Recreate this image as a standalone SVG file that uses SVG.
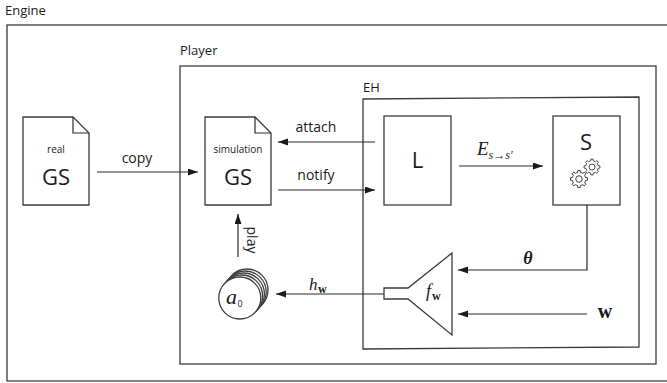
<svg xmlns="http://www.w3.org/2000/svg" xmlns:xlink="http://www.w3.org/1999/xlink" width="667" height="383" viewBox="0 0 667 383">
<style>
.box{fill:none;stroke:#3c3c3c;stroke-width:1.3}
.wbox{fill:#fff;stroke:#3c3c3c;stroke-width:1.3}
.ln{fill:none;stroke:#2a2a2a;stroke-width:1.2}
.arr{fill:none;stroke:#2a2a2a;stroke-width:1.2;marker-end:url(#ah)}
.sans{font-family:"Open Sans","Liberation Sans",sans-serif;fill:#1a1a1a}
.serif{font-family:"Liberation Serif","DejaVu Serif",serif;fill:#1a1a1a}
.gear{fill:#fff;stroke:#2a2a2a;stroke-width:0.85}
</style>
<defs>
<marker id="ah" markerUnits="userSpaceOnUse" markerWidth="11" markerHeight="8" refX="10" refY="3.5" orient="auto">
<path d="M0,0 L10,3.5 L0,7 Z" fill="#1a1a1a"/>
</marker>
<g id="gearShape">
<path class="gear" d="M6.16,-1.31 L7.92,-1.11 L7.92,1.11 L6.16,1.31 L5.28,3.43 L6.39,4.81 L4.81,6.39 L3.43,5.28 L1.31,6.16 L1.11,7.92 L-1.11,7.92 L-1.31,6.16 L-3.43,5.28 L-4.81,6.39 L-6.39,4.81 L-5.28,3.43 L-6.16,1.31 L-7.92,1.11 L-7.92,-1.11 L-6.16,-1.31 L-5.28,-3.43 L-6.39,-4.81 L-4.81,-6.39 L-3.43,-5.28 L-1.31,-6.16 L-1.11,-7.92 L1.11,-7.92 L1.31,-6.16 L3.43,-5.28 L4.81,-6.39 L6.39,-4.81 L5.28,-3.43 Z"/>
<circle class="gear" r="3"/>
</g>
</defs>

<g id="engine">
<rect class="box" x="7" y="25" width="662" height="356"/>
<text class="sans" x="5" y="15" font-size="13">Engine</text>
</g>

<g id="player">
<rect class="box" x="180" y="66" width="476" height="298"/>
<text class="sans" x="180" y="55" font-size="13">Player</text>
</g>

<g id="eh">
<polygon class="box" points="363,99 639,97 639,347 363,349"/>
<text class="sans" x="363" y="92" font-size="13">EH</text>
</g>

<g id="realGS">
<path class="wbox" d="M23,117 H73 L89,133 V205 H23 Z"/>
<path class="ln" d="M73,117 V133 H89"/>
<text class="sans" x="56" y="153" font-size="10" text-anchor="middle">real</text>
<text class="sans" x="56" y="185" font-size="22" text-anchor="middle">GS</text>
</g>

<g id="simGS">
<path class="wbox" d="M205,117 H255 L271,133 V205 H205 Z"/>
<path class="ln" d="M255,117 V133 H271"/>
<text class="sans" x="238" y="153" font-size="10" text-anchor="middle">simulation</text>
<text class="sans" x="238" y="185" font-size="22" text-anchor="middle">GS</text>
</g>

<g id="L">
<rect class="wbox" x="384" y="116" width="67" height="89"/>
<text class="sans" x="417.5" y="168" font-size="22" text-anchor="middle">L</text>
</g>

<g id="S">
<rect class="wbox" x="553" y="116" width="67" height="89"/>
<text class="sans" x="586" y="150" font-size="22" text-anchor="middle">S</text>
<use xlink:href="#gearShape" transform="translate(592,167) scale(1.0)"/>
<use xlink:href="#gearShape" transform="translate(579,179) scale(1.08)"/>
</g>

<g id="fw">
<path class="wbox" d="M384,288 H408 L452,253 V335 L408,299 H384 Z"/>
<text class="serif" x="426" y="297" font-size="18" font-style="italic">f<tspan font-size="12" font-weight="bold" font-style="normal" dx="1" dy="3">w</tspan></text>
</g>

<g id="a0">
<circle class="wbox" cx="247" cy="290" r="21"/>
<circle class="wbox" cx="245.2" cy="292" r="21"/>
<circle class="wbox" cx="243.4" cy="294" r="21"/>
<circle class="wbox" cx="241.6" cy="296" r="21"/>
<circle class="wbox" cx="239.8" cy="298" r="21"/>
<text class="serif" x="226" y="304" font-size="22" font-style="italic">a<tspan class="sans" font-size="9" font-style="normal" dx="0.5" dy="3">0</tspan></text>
</g>

<g id="connectors">
<line class="arr" x1="97" y1="172" x2="198" y2="172"/>
<text class="sans" x="137" y="163" font-size="14" text-anchor="middle">copy</text>
<line class="arr" x1="375" y1="142" x2="278" y2="142"/>
<text class="sans" x="316" y="132" font-size="14" text-anchor="middle">attach</text>
<line class="arr" x1="278" y1="190" x2="375" y2="190"/>
<text class="sans" x="316" y="180" font-size="14" text-anchor="middle">notify</text>
<line class="arr" x1="459" y1="166" x2="543" y2="166"/>
<text class="serif" x="477" y="155" font-size="19" font-style="italic">E<tspan font-size="12" dy="4">s→s′</tspan></text>
<path class="arr" d="M587,205 V270 H458"/>
<text class="serif" x="528" y="264" font-size="18" font-style="italic" font-weight="bold" text-anchor="middle">θ</text>
<line class="arr" x1="587" y1="314" x2="458" y2="314"/>
<text class="serif" x="605" y="318" font-size="20" font-weight="bold" text-anchor="middle">w</text>
<line class="arr" x1="384" y1="294" x2="276" y2="294"/>
<text class="serif" x="309" y="290" font-size="17" font-style="italic">h<tspan font-size="12" font-weight="bold" font-style="normal" dx="0.5" dy="3">w</tspan></text>
<line class="arr" x1="238" y1="257" x2="238" y2="214"/>
<text class="sans" transform="translate(247,240) rotate(90)" font-size="14" text-anchor="middle">play</text>
</g>
</svg>
